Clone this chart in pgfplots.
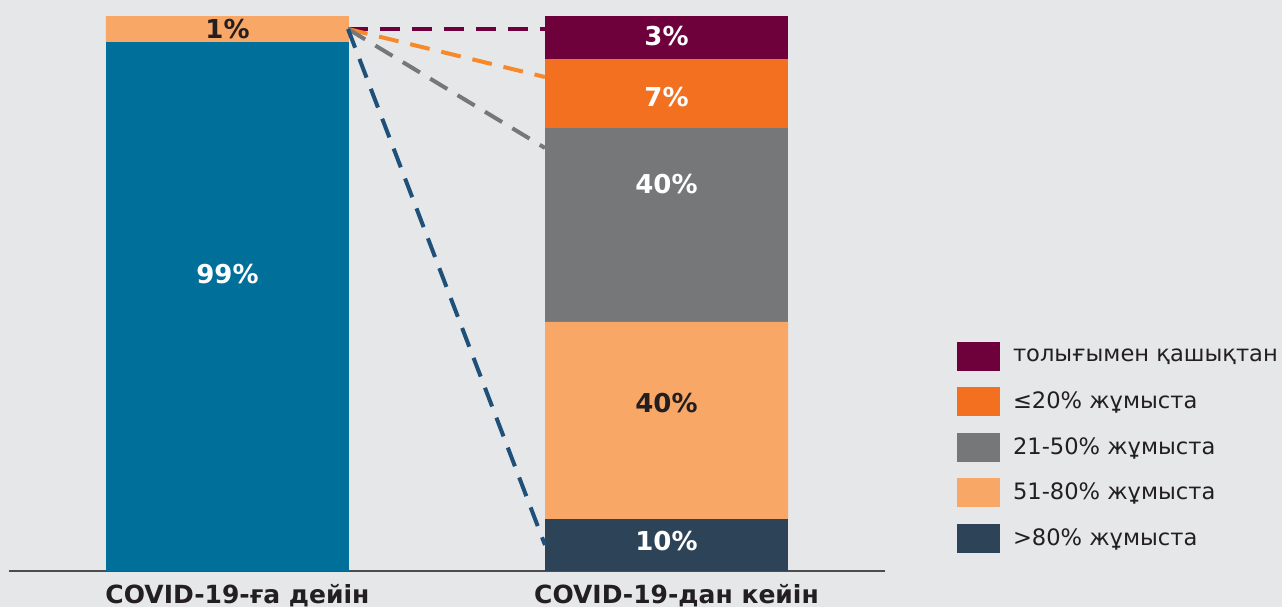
\documentclass[border=0pt]{standalone}
\usepackage{fontspec}
\setmainfont{DejaVu Sans}
\usepackage{pgfplots}
\pgfplotsset{compat=1.18}
\definecolor{bg}{HTML}{E6E7E8}
\definecolor{txt}{HTML}{231F20}
\definecolor{axl}{HTML}{4D4D4F}
\definecolor{cTeal}{HTML}{00709A}
\definecolor{cLight}{HTML}{F8A766}
\definecolor{cOrange}{HTML}{F37021}
\definecolor{cGray}{HTML}{767779}
\definecolor{cMaroon}{HTML}{6E003B}
\definecolor{cSlate}{HTML}{2D4358}
\definecolor{lOrange}{HTML}{F7892A}
\definecolor{lBlue}{HTML}{1F5079}
\tikzset{lbl/.style={font=\bfseries\fontsize{13pt}{15pt}\selectfont, inner sep=0pt}}
\pgfplotsset{myaxis/.style={scale only axis, width=438pt, height=277.25pt,
  xmin=-0.4977, xmax=1.4977, ymin=0, ymax=100,
  at={(4.5pt,18.25pt)}, anchor=south west, clip=false}}
\begin{document}
\begin{tikzpicture}
\fill[bg] (0,0) rectangle (641pt,303.5pt);
% stacked bars
\begin{axis}[myaxis, ybar stacked, bar width=121.5pt,
  axis x line=bottom, axis y line=none,
  x axis line style={-, draw=axl, line width=1pt},
  xtick={0,1}, xticklabels={COVID-19-ға дейін, COVID-19-дан кейін},
  major x tick style={draw=none}, ytick=\empty,
  xticklabel style={font=\bfseries\fontsize{12.5pt}{14pt}\selectfont, text=txt,
    anchor=base, inner sep=0pt, yshift=-14.6pt, xshift=5pt}]
\addplot[fill=cTeal, draw=none] coordinates {(0,95.31) (1,0)};
\addplot[fill=cSlate, draw=none] coordinates {(0,0) (1,9.29)};
\addplot[fill=cLight, draw=none] coordinates {(0,4.69) (1,35.53)};
\addplot[fill=cGray, draw=none] coordinates {(0,0) (1,35.04)};
\addplot[fill=cOrange, draw=none] coordinates {(0,0) (1,12.39)};
\addplot[fill=cMaroon, draw=none] coordinates {(0,0) (1,7.75)};
\end{axis}
% dashed connector lines, value labels and legend
\begin{axis}[myaxis, axis lines=none,
  legend image code/.code={\fill[#1] (0pt,-7.25pt) rectangle (21.5pt,7.25pt);},
  legend cell align=left,
  legend style={at={(rel axis cs:1.0822,0.4121)}, anchor=north west,
    draw=none, fill=none, inner sep=0pt, outer sep=0pt, row sep=8.25pt,
    font=\fontsize{11.3pt}{13pt}\selectfont, text=txt,
    nodes={inner sep=0pt},
    /tikz/every odd column/.append style={column sep=6.5pt}}]
\addlegendimage{fill=cMaroon, draw=none}\addlegendentry{толығымен қашықтан}
\addlegendimage{fill=cOrange, draw=none}\addlegendentry{≤20\% жұмыста}
\addlegendimage{fill=cGray, draw=none}\addlegendentry{21-50\% жұмыста}
\addlegendimage{fill=cLight, draw=none}\addlegendentry{51-80\% жұмыста}
\addlegendimage{fill=cSlate, draw=none}\addlegendentry{>80\% жұмыста}
\addplot[cMaroon, line width=2pt, dash pattern=on 10pt off 6pt] coordinates {(0.2745,97.65) (0.7232,97.65)};
\addplot[lOrange, line width=2pt, dash pattern=on 10pt off 6pt] coordinates {(0.2745,97.65) (0.7232,89.0)};
\addplot[cGray, line width=2pt, dash pattern=on 10pt off 6pt] coordinates {(0.2745,97.65) (0.7232,76.2)};
\addplot[lBlue, line width=2pt, dash pattern=on 10pt off 6pt] coordinates {(0.2745,97.65) (0.7232,4.6)};
\node[lbl, text=white] at (axis cs:0,53.47) {99\%};
\node[lbl, text=txt] at (axis cs:0,97.65) {1\%};
\node[lbl, text=white] at (axis cs:1,96.3) {3\%};
\node[lbl, text=white] at (axis cs:1,85.4) {7\%};
\node[lbl, text=white] at (axis cs:1,69.7) {40\%};
\node[lbl, text=txt] at (axis cs:1,30.2) {40\%};
\node[lbl, text=white] at (axis cs:1,5.3) {10\%};
\end{axis}
\pgfresetboundingbox
\path (0,0) rectangle (641pt,303.5pt);
\end{tikzpicture}
\end{document}
